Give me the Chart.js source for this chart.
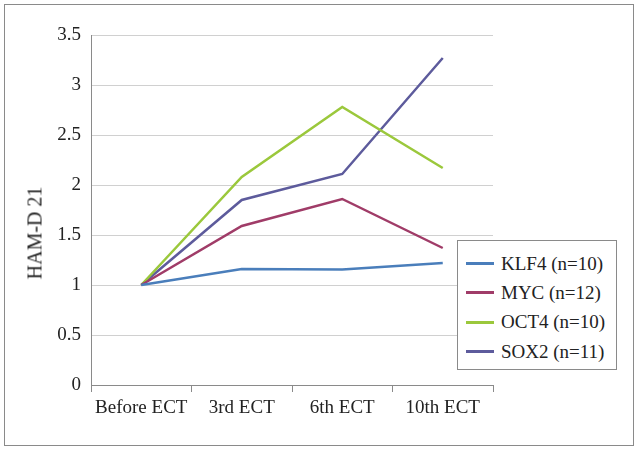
<!DOCTYPE html>
<html>
<head>
<meta charset="utf-8">
<script src="https://cdn.jsdelivr.net/npm/chart.js@4.4.0/dist/chart.umd.min.js"></script>
<style>
  body { margin: 0; background: #fff; }
  #wrap { position: relative; width: 638px; height: 449px; }
  #frame { position: absolute; left: 4px; top: 4px; width: 628px; height: 440px; border: 1px solid #8a8a8a; }
  #myChart { position: absolute; left: 0; top: 0; }
  #legend { position: absolute; left: 457px; top: 240px; width: 160px; height: 130px; border: 1px solid #8a8a8a; background: #fff;
    font-family: "Liberation Serif", serif; font-size: 19px; color: #222; box-sizing: border-box; padding-top: 8px; }
  .item { height: 29.3px; display: flex; align-items: center; }
  .swatch { width: 28px; height: 3px; margin-left: 8px; margin-right: 7px; }
  #ytitle { position: absolute; left: 35px; top: 233px; transform: translate(-50%, -50%) rotate(-90deg);
    font-family: "Liberation Serif", serif; font-size: 20px; color: #222; white-space: nowrap; }
</style>
</head>
<body>
<div id="wrap">
  <div id="frame"></div>
  <canvas id="myChart" width="638" height="449"></canvas>
  <div id="ytitle">HAM-D 21</div>
  <div id="legend"></div>
</div>
<script>
const labels = ["Before ECT", "3rd ECT", "6th ECT", "10th ECT"];
const klf4 = [1, 1.16, 1.155, 1.22];
const myc = [1, 1.59, 1.86, 1.37];
const oct4 = [1, 2.08, 2.78, 2.17];
const sox2 = [1, 1.85, 2.11, 3.27];

const names = ["KLF4 (n=10)", "MYC (n=12)", "OCT4 (n=10)", "SOX2 (n=11)"];
const colors = ["#4a7ebb", "#a03c68", "#9bc83c", "#5d5b9c"];
const series = [klf4, myc, oct4, sox2];

const ctx = document.getElementById("myChart");
const font = { family: "'Liberation Serif', serif", size: 19 };

var myChart = new Chart(ctx, {
  type: "line",
  data: {
    labels: labels,
    datasets: series.map((d, i) => ({
      label: names[i],
      data: d,
      borderColor: colors[i],
      backgroundColor: colors[i],
      borderWidth: 2.5,
      pointRadius: 0,
      tension: 0,
    })),
  },
  options: {
    responsive: false,
    animation: false,
    layout: { padding: { top: 35, right: 145, left: 0, bottom: 0 } },
    plugins: { legend: { display: false }, tooltip: { enabled: false } },
    scales: {
      x: {
        offset: true,
        grid: { offset: true, drawOnChartArea: false, drawTicks: true, tickLength: 7, color: "#8a8a8a" },
        border: { color: "#8a8a8a" },
        ticks: { font: font, color: "#222", padding: 5 },
        afterFit: (s) => { s.height = 64; },
      },
      y: {
        min: 0,
        max: 3.5,
        ticks: { stepSize: 0.5, font: font, color: "#222", padding: 10, callback: (v) => String(v) },
        grid: { color: "#d0d0d0", drawTicks: false },
        border: { color: "#8a8a8a" },
        afterFit: (s) => { s.width = 91; },
      },
    },
  },
});

const legend = document.getElementById("legend");
myChart.data.datasets.forEach((ds) => {
  const row = document.createElement("div");
  row.className = "item";
  const sw = document.createElement("span");
  sw.className = "swatch";
  sw.style.background = ds.borderColor;
  const tx = document.createElement("span");
  tx.textContent = ds.label;
  row.appendChild(sw);
  row.appendChild(tx);
  legend.appendChild(row);
});
</script>
</body>
</html>
